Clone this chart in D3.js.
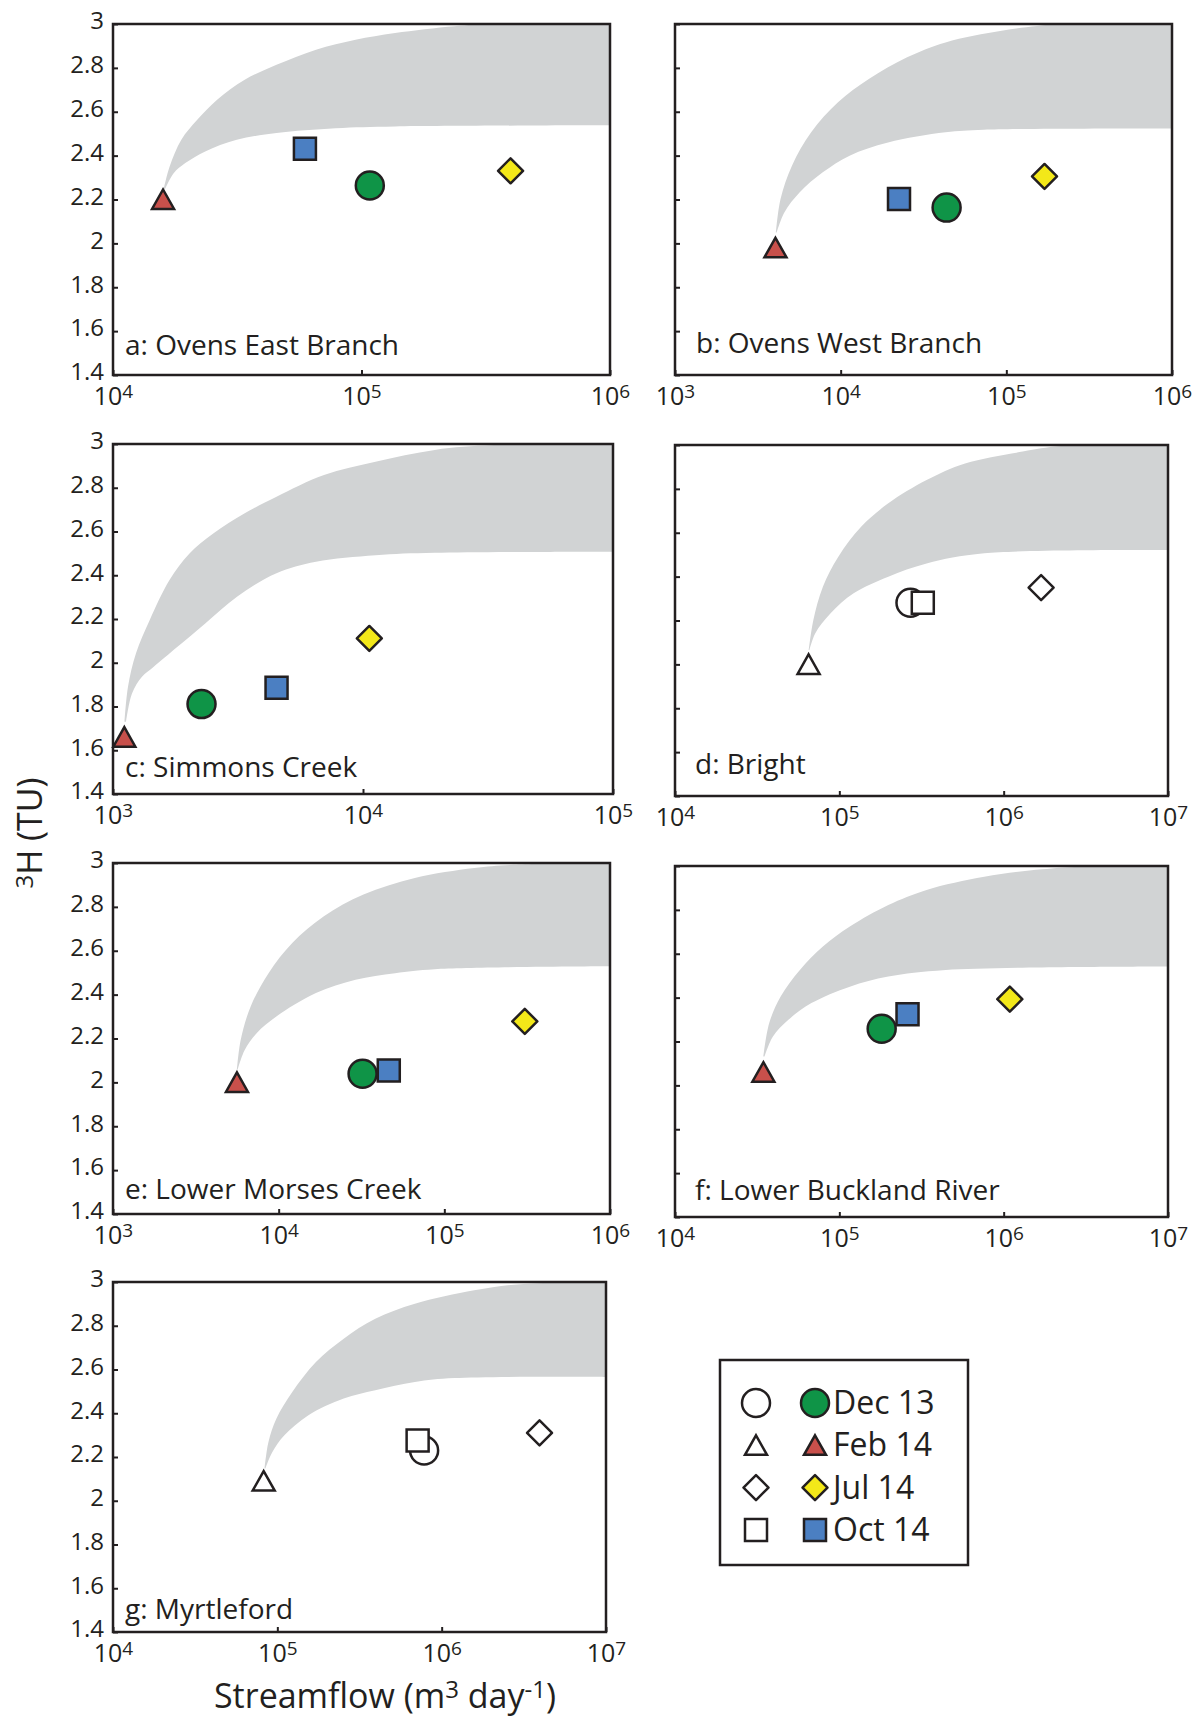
<!DOCTYPE html>
<html>
<head>
<meta charset="utf-8">
<script src="https://cdn.jsdelivr.net/npm/d3@7"></script>
<style>
  body { margin: 0; background: #fff; }
  text { font-family: "Open Sans", sans-serif; fill: #231f20; }
</style>
</head>
<body>
<svg id="chart" width="1203" height="1723"></svg>
<script>
// ---- data ----
var titles = ['a: Ovens East Branch', 'b: Ovens West Branch', 'c: Simmons Creek', 'd: Bright',
  'e: Lower Morses Creek', 'f: Lower Buckland River', 'g: Myrtleford'];
// x extent of each panel, in powers of ten
var xDecades = [[4, 6], [3, 6], [3, 5], [4, 7], [3, 6], [4, 7], [4, 7]];
var yTickValues = [1.4, 1.6, 1.8, 2, 2.2, 2.4, 2.6, 2.8, 3];
var filledPanel = [true, true, true, false, true, true, false];

// streamflow (m3/day) and 3H (TU) per sampling round, one value per panel
var dec13Q = [1.08e5, 4.36e4, 2.26e3, 2.71e5, 3.21e4, 1.81e5, 7.82e5];
var dec13T = [2.264, 2.163, 1.811, 2.281, 2.039, 2.258, 2.23];
var feb14Q = [1.59e4, 4.04e3, 1.11e3, 6.5e4, 5.6e3, 3.45e4, 8.26e4];
var feb14T = [2.20, 1.98, 1.66, 2.00, 2.00, 2.06, 2.09];
var jul14Q = [3.98e5, 1.70e5, 1.06e4, 1.69e6, 3.06e5, 1.09e6, 3.94e6];
var jul14T = [2.331, 2.305, 2.111, 2.35, 2.278, 2.393, 2.31];
var oct14Q = [5.92e4, 2.25e4, 4.51e3, 3.22e5, 4.62e4, 2.6e5, 7.14e5];
var oct14T = [2.431, 2.202, 1.886, 2.281, 2.054, 2.324, 2.275];

// grey band edges: log10(Q) and 3H
var bandUpperLogQ = [
  [4.204, 4.228, 4.275, 4.339, 4.419, 4.53, 4.658, 4.817, 4.976, 5.135, 5.374, 5.53, 6.0],
  [3.609, 3.637, 3.706, 3.822, 3.984, 4.17, 4.401, 4.633, 4.98, 5.328, 6.0],
  [3.046, 3.06, 3.092, 3.147, 3.226, 3.306, 3.401, 3.527, 3.654, 3.844, 4.05, 4.287, 4.525, 5.0],
  [4.814, 4.842, 4.9, 4.994, 5.134, 5.298, 5.531, 5.765, 6.116, 6.35, 7.0],
  [3.748, 3.771, 3.831, 3.939, 4.082, 4.273, 4.512, 4.822, 5.181, 5.419, 6.0],
  [4.538, 4.573, 4.643, 4.76, 4.9, 5.064, 5.298, 5.531, 5.882, 6.233, 6.467, 7.0],
  [4.922, 4.946, 4.994, 5.091, 5.235, 5.404, 5.596, 5.837, 6.198, 6.439, 6.68, 7.0]
];
var bandUpperT = [
  [2.247, 2.35, 2.472, 2.563, 2.655, 2.746, 2.814, 2.883, 2.928, 2.959, 2.99, 3.0, 3.0],
  [2.05, 2.202, 2.354, 2.506, 2.643, 2.749, 2.848, 2.916, 2.97, 3.0, 3.0],
  [1.73, 1.89, 2.043, 2.195, 2.378, 2.5, 2.591, 2.683, 2.759, 2.858, 2.919, 2.973, 2.995, 3.0],
  [2.065, 2.202, 2.354, 2.491, 2.628, 2.734, 2.84, 2.916, 2.97, 2.995, 3.0],
  [2.057, 2.194, 2.346, 2.498, 2.635, 2.757, 2.856, 2.932, 2.977, 2.992, 3.0],
  [2.132, 2.283, 2.405, 2.526, 2.633, 2.724, 2.822, 2.891, 2.951, 2.985, 2.997, 3.0],
  [2.147, 2.269, 2.375, 2.497, 2.634, 2.741, 2.832, 2.901, 2.962, 2.988, 2.997, 3.0]
];
var bandLowerLogQ = [
  [4.209, 4.244, 4.291, 4.371, 4.498, 4.658, 4.896, 5.135, 6.0],
  [3.614, 3.66, 3.753, 3.892, 4.054, 4.286, 4.633, 4.865, 6.0],
  [3.052, 3.076, 3.116, 3.163, 3.258, 3.369, 3.496, 3.654, 3.812, 4.05, 4.287, 5.0],
  [4.818, 4.853, 4.947, 5.087, 5.298, 5.531, 5.882, 7.0],
  [3.752, 3.795, 3.867, 3.986, 4.225, 4.464, 4.703, 4.942, 6.0],
  [4.545, 4.596, 4.69, 4.83, 5.064, 5.298, 5.648, 7.0],
  [4.927, 4.97, 5.043, 5.187, 5.404, 5.596, 5.837, 6.078, 7.0]
];
var bandLowerT = [
  [2.247, 2.32, 2.366, 2.419, 2.472, 2.503, 2.525, 2.533, 2.538],
  [2.05, 2.141, 2.233, 2.324, 2.4, 2.46, 2.506, 2.518, 2.524],
  [1.73, 1.86, 1.936, 1.982, 2.073, 2.18, 2.302, 2.409, 2.462, 2.492, 2.503, 2.508],
  [2.065, 2.141, 2.233, 2.324, 2.4, 2.46, 2.506, 2.521],
  [2.057, 2.148, 2.224, 2.3, 2.407, 2.468, 2.498, 2.516, 2.529],
  [2.132, 2.223, 2.299, 2.375, 2.45, 2.496, 2.526, 2.542],
  [2.147, 2.223, 2.299, 2.39, 2.467, 2.505, 2.543, 2.561, 2.566]
];

// ---- layout and style ----
var ink = '#231f20', bandGrey = '#d1d3d4';
var layout = [
  {x: 113, y: 24, w: 497, h: 351, tx: 12, ty: 20, labels: true},
  {x: 675, y: 24, w: 497, h: 351, tx: 21, ty: 22, labels: false},
  {x: 113, y: 444, w: 500, h: 350, tx: 12, ty: 17, labels: true},
  {x: 675, y: 445, w: 493, h: 351, tx: 20, ty: 22, labels: false},
  {x: 113, y: 863, w: 497, h: 351, tx: 12, ty: 15, labels: true},
  {x: 675, y: 866, w: 493, h: 351, tx: 20, ty: 17, labels: false},
  {x: 113, y: 1282, w: 493, h: 350, tx: 12, ty: 13, labels: true}
];

var series = [
  {name: 'Dec 13', shape: 'circle', color: '#0f9447', q: dec13Q, t: dec13T},
  {name: 'Feb 14', shape: 'triangle', color: '#c8504b', q: feb14Q, t: feb14T},
  {name: 'Jul 14', shape: 'diamond', color: '#f3e819', q: jul14Q, t: jul14T},
  {name: 'Oct 14', shape: 'square', color: '#4b7fc2', q: oct14Q, t: oct14T}
];

var shapes = {
  triangle: 'M0,-10L11,9.5L-11,9.5Z',
  diamond: 'M0,-12.5L12.5,0L0,12.5L-12.5,0Z',
  square: 'M-11,-11H11V11H-11Z'
};

var svg = d3.select('#chart');

function drawMarker(g, shape, fill) {
  var m;
  if (shape === 'circle') m = g.append('circle').attr('r', 14);
  else m = g.append('path').attr('d', shapes[shape]);
  m.attr('fill', fill)
    .attr('stroke', ink)
    .attr('stroke-width', 2.5)
    .attr('stroke-linejoin', shape === 'diamond' ? 'round' : 'miter');
}

layout.forEach(function (p, i) {
  var x = d3.scaleLog()
    .domain([Math.pow(10, xDecades[i][0]), Math.pow(10, xDecades[i][1])])
    .range([0, p.w]);
  var y = d3.scaleLinear().domain([1.4, 3]).range([p.h, 0]);

  var g = svg.append('g')
    .attr('class', 'panel')
    .attr('transform', 'translate(' + p.x + ',' + p.y + ')');

  g.append('clipPath').attr('id', 'clip' + i)
    .append('rect').attr('width', p.w).attr('height', p.h);

  // grey band
  var lineGen = d3.line()
    .curve(d3.curveCatmullRom.alpha(0.5))
    .x(function (d) { return x(Math.pow(10, d[0])); })
    .y(function (d) { return y(d[1]); });
  var up = d3.zip(bandUpperLogQ[i], bandUpperT[i]);
  var lo = d3.zip(bandLowerLogQ[i], bandLowerT[i]).reverse();
  g.append('path')
    .attr('clip-path', 'url(#clip' + i + ')')
    .attr('d', lineGen(up) + 'L' + lineGen(lo).slice(1) + 'Z')
    .attr('fill', bandGrey);

  // y axis: ticks inward, labels outside
  var yAxis = d3.axisLeft(y)
    .tickValues(yTickValues)
    .tickSizeInner(-5)
    .tickSizeOuter(0)
    .tickPadding(9)
    .tickFormat(p.labels ? d3.format('') : '');
  var yg = g.append('g').attr('class', 'y axis').call(yAxis);
  yg.select('.domain').remove();
  yg.selectAll('line').attr('stroke', ink).attr('stroke-width', 2);
  yg.selectAll('text')
    .attr('font-family', '"Open Sans", sans-serif')
    .attr('font-size', 24)
    .attr('dy', '0.2em')
    .attr('fill', ink);

  // x axis: powers of ten with superscripts
  var decs = d3.range(xDecades[i][0], xDecades[i][1] + 1);
  var xAxis = d3.axisBottom(x)
    .tickValues(decs.map(function (d) { return Math.pow(10, d); }))
    .tickSizeInner(-5)
    .tickSizeOuter(0)
    .tickPadding(12)
    .tickFormat('');
  var xg = g.append('g').attr('class', 'x axis')
    .attr('transform', 'translate(0,' + p.h + ')')
    .call(xAxis);
  xg.select('.domain').remove();
  xg.selectAll('line').attr('stroke', ink).attr('stroke-width', 2);
  xg.selectAll('.tick text')
    .attr('font-family', '"Open Sans", sans-serif')
    .attr('font-size', 25)
    .attr('fill', ink)
    .each(function (d) {
      var t = d3.select(this);
      t.append('tspan').text('10');
      t.append('tspan').attr('font-size', 19).attr('dy', -7)
        .text(Math.round(Math.log10(d)));
    });

  // markers
  series.forEach(function (s) {
    var mg = g.append('g')
      .attr('transform', 'translate(' + x(s.q[i]) + ',' + y(s.t[i]) + ')');
    drawMarker(mg, s.shape, filledPanel[i] ? s.color : '#fff');
  });

  // frame
  g.append('rect')
    .attr('width', p.w).attr('height', p.h)
    .attr('fill', 'none').attr('stroke', ink).attr('stroke-width', 2.5);

  g.append('text')
    .attr('x', p.tx).attr('y', p.h - p.ty)
    .attr('font-size', 28)
    .text(titles[i]);
});

// axis titles
var yTitle = svg.append('text')
  .attr('transform', 'translate(42,833) rotate(-90)')
  .attr('text-anchor', 'middle')
  .attr('font-size', 34);
yTitle.append('tspan').attr('font-size', 24).attr('dy', -9).text('3');
yTitle.append('tspan').attr('dy', 9).text('H (TU)');

var xTitle = svg.append('text')
  .attr('x', 385).attr('y', 1708)
  .attr('text-anchor', 'middle')
  .attr('font-size', 34);
xTitle.append('tspan').text('Streamflow (m');
xTitle.append('tspan').attr('font-size', 24).attr('dy', -10).text('3');
xTitle.append('tspan').attr('dy', 10).text(' day');
xTitle.append('tspan').attr('font-size', 24).attr('dy', -10).text('-1');
xTitle.append('tspan').attr('dy', 10).text(')');

// legend
var legend = svg.append('g').attr('class', 'legend');
legend.append('rect')
  .attr('x', 720).attr('y', 1360).attr('width', 248).attr('height', 205)
  .attr('fill', '#fff').attr('stroke', ink).attr('stroke-width', 2.5);
series.forEach(function (s, k) {
  var cy = 1403 + k * 42.3;
  drawMarker(legend.append('g').attr('transform', 'translate(756,' + cy + ')'), s.shape, '#fff');
  drawMarker(legend.append('g').attr('transform', 'translate(815,' + cy + ')'), s.shape, s.color);
  legend.append('text')
    .attr('x', 833).attr('y', cy + 11)
    .attr('font-family', '"Liberation Sans", Arial, sans-serif')
    .attr('font-size', 32)
    .text(s.name);
});
</script>
</body>
</html>
